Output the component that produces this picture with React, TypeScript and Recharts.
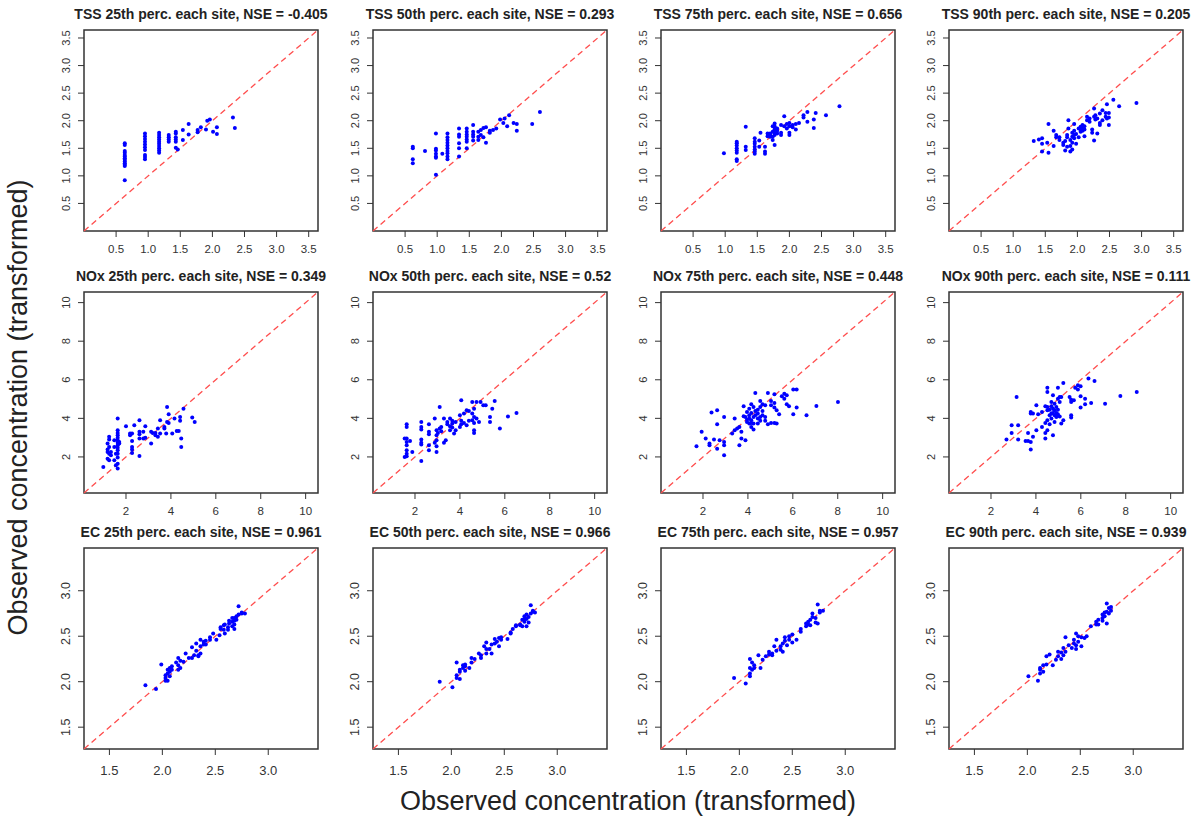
import React from "react";
import {
  ScatterChart,
  Scatter,
  XAxis,
  YAxis,
  ReferenceLine,
  ReferenceArea,
} from "recharts";

type Pt = [number, number];

// ---- axis setups (observed / predicted share the same scale) ----
const TSS_DOMAIN: [number, number] = [0, 3.645];
const TSS_TICKS = [0.5, 1.0, 1.5, 2.0, 2.5, 3.0, 3.5];
const NOX_DOMAIN: [number, number] = [0.13, 10.55];
const NOX_TICKS = [2, 4, 6, 8, 10];
const EC_DOMAIN: [number, number] = [1.26, 3.47];
const EC_TICKS = [1.5, 2.0, 2.5, 3.0];

const tss25: Pt[] = [
  [0.635, 1.59], [0.635, 1.56], [0.635, 1.45], [0.635, 1.42], [0.635, 1.38], [0.635, 1.35],
  [0.635, 1.32], [0.635, 1.29], [0.635, 1.26], [0.635, 1.23], [0.635, 1.2], [0.635, 1.18],
  [0.635, 0.92], [0.95, 1.77], [0.95, 1.72], [0.95, 1.67], [0.95, 1.62], [0.95, 1.57],
  [0.95, 1.52], [0.95, 1.47], [0.95, 1.38], [0.95, 1.34], [0.95, 1.3], [1.17, 1.78],
  [1.17, 1.74], [1.17, 1.7], [1.17, 1.66], [1.17, 1.62], [1.17, 1.58], [1.17, 1.54],
  [1.17, 1.5], [1.17, 1.46], [1.17, 1.42], [1.32, 1.74], [1.32, 1.7], [1.32, 1.66],
  [1.32, 1.62], [1.43, 1.8], [1.43, 1.77], [1.43, 1.7], [1.43, 1.66], [1.43, 1.62],
  [1.43, 1.51], [1.46, 1.48], [1.54, 1.83], [1.54, 1.65], [1.63, 1.94], [1.63, 1.75],
  [1.77, 1.83], [1.77, 1.79], [1.82, 1.88], [1.9, 1.84], [1.92, 2.0], [1.96, 2.02],
  [2.01, 1.8], [2.07, 1.88], [2.07, 1.76], [2.32, 2.06], [2.35, 1.87],
];

const tss50: Pt[] = [
  [0.62, 1.53], [0.62, 1.5], [0.62, 1.3], [0.62, 1.23], [0.81, 1.45], [0.98, 1.77],
  [0.98, 1.49], [0.98, 1.46], [0.98, 1.4], [0.98, 1.35], [0.98, 1.33], [0.98, 1.02],
  [1.08, 1.4], [1.16, 1.77], [1.16, 1.7], [1.16, 1.65], [1.16, 1.6], [1.16, 1.55],
  [1.16, 1.5], [1.16, 1.45], [1.16, 1.41], [1.16, 1.35], [1.16, 1.3], [1.34, 1.86],
  [1.34, 1.75], [1.34, 1.71], [1.34, 1.59], [1.34, 1.5], [1.34, 1.35], [1.46, 1.86],
  [1.46, 1.8], [1.46, 1.75], [1.46, 1.71], [1.46, 1.66], [1.46, 1.62], [1.46, 1.5],
  [1.56, 1.92], [1.56, 1.8], [1.56, 1.75], [1.56, 1.71], [1.56, 1.64], [1.64, 1.8],
  [1.64, 1.71], [1.64, 1.65], [1.68, 1.83], [1.68, 1.74], [1.72, 1.87], [1.72, 1.7],
  [1.76, 1.88], [1.76, 1.6], [1.82, 1.78], [1.82, 1.82], [1.87, 1.83], [1.92, 1.86],
  [1.98, 2.02], [2.03, 1.96], [2.05, 2.04], [2.09, 1.9], [2.12, 2.1], [2.19, 1.96],
  [2.24, 1.94], [2.24, 1.82], [2.48, 1.94], [2.6, 2.16],
];

const tss75: Pt[] = [
  [0.98, 1.41], [1.18, 1.62], [1.18, 1.59], [1.18, 1.55], [1.18, 1.5], [1.18, 1.46],
  [1.18, 1.42], [1.18, 1.3], [1.18, 1.27], [1.32, 1.89], [1.32, 1.53], [1.32, 1.47],
  [1.46, 1.68], [1.46, 1.62], [1.46, 1.58], [1.46, 1.53], [1.46, 1.48], [1.46, 1.44],
  [1.46, 1.4], [1.53, 1.64], [1.53, 1.53], [1.55, 1.78], [1.62, 1.53], [1.62, 1.44],
  [1.62, 1.4], [1.66, 1.77], [1.66, 1.72], [1.7, 1.77], [1.7, 1.74], [1.7, 1.71],
  [1.74, 1.9], [1.74, 1.8], [1.74, 1.71], [1.74, 1.65], [1.77, 1.95], [1.77, 1.9],
  [1.77, 1.84], [1.77, 1.78], [1.77, 1.74], [1.77, 1.56], [1.81, 1.86], [1.81, 1.82],
  [1.81, 1.77], [1.87, 1.92], [1.87, 1.78], [1.87, 1.74], [1.92, 2.08], [1.92, 1.9],
  [1.96, 1.94], [1.96, 1.86], [2.0, 1.96], [2.0, 1.9], [2.0, 1.74], [2.0, 1.78],
  [2.05, 1.92], [2.05, 1.88], [2.1, 1.94], [2.1, 1.84], [2.15, 1.96], [2.22, 2.1],
  [2.22, 2.06], [2.28, 2.16], [2.28, 1.98], [2.38, 2.02], [2.38, 1.87], [2.41, 2.14],
  [2.57, 2.1], [2.78, 2.26],
];

const tss90: Pt[] = [
  [1.32, 1.63], [1.4, 1.66], [1.45, 1.68], [1.45, 1.58], [1.45, 1.44], [1.53, 1.6],
  [1.55, 1.94], [1.55, 1.42], [1.63, 1.82], [1.63, 1.54], [1.67, 1.74], [1.67, 1.7],
  [1.72, 1.7], [1.72, 1.65], [1.78, 1.6], [1.78, 1.56], [1.81, 1.63], [1.81, 1.46],
  [1.84, 1.74], [1.84, 1.7], [1.84, 1.53], [1.86, 2.01], [1.86, 1.86], [1.89, 1.65],
  [1.89, 1.54], [1.89, 1.44], [1.92, 1.78], [1.92, 1.71], [1.92, 1.6], [1.92, 1.48],
  [1.95, 1.94], [1.95, 1.82], [1.95, 1.74], [1.95, 1.68], [1.98, 1.76], [1.98, 1.58],
  [2.02, 1.86], [2.02, 1.7], [2.05, 1.89], [2.05, 1.84], [2.05, 1.8], [2.08, 1.92],
  [2.08, 1.86], [2.08, 1.82], [2.11, 1.9], [2.11, 1.84], [2.11, 1.72], [2.15, 2.07],
  [2.15, 2.01], [2.19, 2.04], [2.19, 1.98], [2.23, 1.84], [2.23, 1.78], [2.26, 2.22],
  [2.26, 2.07], [2.26, 1.64], [2.28, 2.1], [2.28, 2.02], [2.31, 2.04], [2.31, 1.77],
  [2.35, 2.13], [2.35, 1.96], [2.35, 1.92], [2.39, 2.19], [2.39, 2.01], [2.44, 2.14],
  [2.44, 2.07], [2.46, 2.3], [2.46, 2.04], [2.49, 2.14], [2.49, 2.06], [2.49, 1.92],
  [2.56, 2.38], [2.65, 2.26], [2.92, 2.32],
];

const nox25: Pt[] = [
  [0.99, 1.48], [1.18, 2.69], [1.18, 2.38], [1.18, 2.26], [1.18, 1.91], [1.25, 3.04],
  [1.25, 2.9], [1.25, 2.52], [1.25, 2.17], [1.25, 1.83], [1.33, 2.26], [1.33, 2.09],
  [1.48, 2.86], [1.48, 2.52], [1.48, 1.83], [1.55, 2.17], [1.55, 1.57], [1.63, 3.99],
  [1.63, 3.38], [1.63, 3.24], [1.63, 3.12], [1.63, 3.0], [1.63, 2.86], [1.63, 2.73],
  [1.63, 2.6], [1.63, 2.48], [1.63, 2.35], [1.63, 2.17], [1.63, 1.97], [1.63, 1.65],
  [1.63, 1.4], [1.7, 2.78], [1.7, 2.69], [2.0, 3.59], [2.18, 3.21], [2.18, 3.12],
  [2.27, 3.21], [2.27, 2.83], [2.27, 2.52], [2.27, 2.38], [2.27, 2.21], [2.37, 3.64],
  [2.6, 3.9], [2.6, 3.3], [2.6, 3.17], [2.6, 2.95], [2.6, 2.05], [2.77, 3.3],
  [2.77, 2.95], [2.86, 3.59], [2.86, 3.0], [3.12, 3.3], [3.12, 2.69], [3.19, 3.24],
  [3.31, 3.24], [3.31, 3.12], [3.42, 3.04], [3.42, 3.47], [3.52, 3.9], [3.52, 3.21],
  [3.71, 3.55], [3.71, 3.47], [3.79, 3.21], [3.83, 4.59], [3.83, 3.81], [3.9, 4.21],
  [3.9, 3.76], [4.06, 3.21], [4.16, 3.99], [4.26, 3.35], [4.35, 3.35], [4.41, 4.07],
  [4.41, 3.87], [4.46, 2.95], [4.46, 2.52], [4.56, 4.5], [4.95, 4.04], [5.06, 3.81],
];

const nox50: Pt[] = [
  [1.54, 2.95], [1.54, 2.0], [1.63, 3.69], [1.63, 3.55], [1.63, 2.95], [1.63, 2.78],
  [1.63, 2.6], [1.63, 2.35], [1.63, 2.17], [1.63, 2.03], [1.78, 2.83], [1.88, 2.26],
  [2.28, 3.81], [2.28, 3.55], [2.28, 3.42], [2.28, 2.9], [2.28, 2.73], [2.28, 2.64],
  [2.28, 1.79], [2.62, 3.69], [2.62, 3.3], [2.62, 3.17], [2.62, 2.6], [2.62, 2.35],
  [2.88, 3.99], [2.88, 2.73], [2.96, 3.38], [2.96, 3.12], [2.96, 2.86], [2.96, 2.55],
  [2.96, 2.26], [3.02, 3.24], [3.1, 4.59], [3.1, 3.47], [3.17, 3.55], [3.17, 3.33],
  [3.29, 3.99], [3.29, 2.73], [3.37, 2.86], [3.44, 3.81], [3.44, 3.69], [3.56, 3.99],
  [3.56, 3.59], [3.56, 3.38], [3.66, 3.87], [3.66, 3.73], [3.66, 3.52], [3.74, 3.21],
  [3.81, 3.38], [3.81, 3.81], [4.0, 4.16], [4.0, 3.55], [4.06, 4.94], [4.06, 3.87],
  [4.06, 3.69], [4.18, 4.25], [4.18, 3.76], [4.3, 4.42], [4.3, 3.64], [4.4, 4.38],
  [4.4, 3.87], [4.55, 4.85], [4.55, 4.25], [4.55, 3.9], [4.63, 4.5], [4.63, 4.07],
  [4.63, 3.76], [4.63, 3.38], [4.63, 3.24], [4.74, 4.85], [4.74, 3.99], [4.85, 3.81],
  [4.92, 4.85], [5.04, 4.68], [5.15, 4.68], [5.34, 4.07], [5.34, 3.81], [5.44, 4.5],
  [5.55, 4.9], [5.78, 3.47], [6.14, 4.1], [6.52, 4.28],
];

const nox75: Pt[] = [
  [1.71, 2.55], [1.94, 3.3], [2.12, 2.95], [2.29, 2.69], [2.29, 2.6], [2.38, 4.3],
  [2.49, 2.9], [2.63, 4.42], [2.63, 3.69], [2.63, 2.43], [2.74, 2.86], [2.94, 4.07],
  [2.94, 2.78], [2.94, 2.6], [2.94, 2.09], [3.3, 3.21], [3.41, 3.38], [3.41, 3.99],
  [3.52, 3.47], [3.62, 2.6], [3.62, 3.55], [3.71, 3.3], [3.71, 2.95], [3.81, 4.63],
  [3.81, 4.11], [3.89, 4.07], [3.89, 2.86], [3.96, 4.33], [3.96, 3.93], [3.96, 3.81],
  [4.06, 4.5], [4.06, 4.16], [4.06, 3.99], [4.06, 3.73], [4.15, 4.73], [4.15, 4.28],
  [4.15, 3.9], [4.15, 3.76], [4.15, 3.55], [4.25, 4.59], [4.25, 4.07], [4.25, 3.73],
  [4.25, 3.42], [4.33, 5.32], [4.33, 4.38], [4.33, 4.16], [4.44, 4.45], [4.44, 4.25],
  [4.44, 3.99], [4.44, 3.73], [4.55, 4.9], [4.55, 4.59], [4.55, 4.07], [4.55, 3.87],
  [4.65, 4.73], [4.65, 4.38], [4.65, 4.16], [4.77, 4.68], [4.77, 4.07], [4.77, 3.87],
  [4.89, 5.32], [4.89, 3.69], [5.03, 4.9], [5.03, 4.68], [5.03, 3.76], [5.18, 5.25],
  [5.18, 4.8], [5.18, 4.56], [5.18, 3.76], [5.28, 4.42], [5.28, 3.73], [5.39, 4.21],
  [5.51, 5.14], [5.62, 5.28], [5.62, 5.02], [5.73, 5.2], [5.73, 4.73], [5.83, 4.63],
  [6.02, 5.49], [6.02, 4.21], [6.17, 5.49], [6.17, 4.56], [6.61, 4.16], [7.05, 4.64],
  [8.01, 4.85],
];

const nox90: Pt[] = [
  [2.69, 2.9], [2.92, 3.64], [2.92, 3.24], [3.14, 5.11], [3.21, 3.64], [3.21, 2.9],
  [3.54, 2.83], [3.65, 3.24], [3.65, 2.83], [3.77, 4.33], [3.77, 4.25], [3.77, 2.78],
  [3.77, 2.38], [3.87, 3.04], [3.87, 4.25], [4.02, 4.68], [4.02, 3.38], [4.1, 4.21],
  [4.27, 3.55], [4.27, 4.33], [4.42, 4.63], [4.42, 3.76], [4.42, 3.24], [4.42, 2.95],
  [4.51, 5.59], [4.51, 5.37], [4.51, 4.59], [4.51, 4.42], [4.51, 3.9], [4.51, 3.38],
  [4.61, 4.45], [4.61, 4.16], [4.61, 3.69], [4.69, 4.85], [4.69, 4.63], [4.69, 4.25],
  [4.69, 3.99], [4.76, 5.2], [4.76, 4.5], [4.76, 4.28], [4.76, 3.12], [4.83, 4.76],
  [4.83, 4.42], [4.83, 4.16], [4.83, 3.81], [4.91, 4.59], [4.91, 4.28], [4.91, 4.07],
  [4.98, 5.59], [4.98, 5.02], [4.98, 4.45], [4.98, 4.21], [5.06, 5.11], [5.06, 4.85],
  [5.06, 4.1], [5.13, 5.11], [5.13, 3.73], [5.22, 5.83], [5.22, 3.9], [5.5, 5.11],
  [5.57, 4.97], [5.57, 4.85], [5.57, 4.16], [5.57, 4.04], [5.69, 4.94], [5.75, 5.59],
  [5.87, 5.71], [5.87, 5.49], [5.99, 5.66], [5.99, 5.14], [5.99, 4.56], [6.19, 5.02],
  [6.19, 4.73], [6.34, 6.06], [6.46, 4.8], [6.61, 5.94], [7.08, 4.76], [7.76, 5.16],
  [8.49, 5.37],
];

const ec25: Pt[] = [
  [1.84, 1.96], [1.94, 1.92], [1.99, 2.19], [2.03, 2.07], [2.03, 2.04], [2.03, 2.01],
  [2.05, 2.13], [2.05, 2.09], [2.05, 2.01], [2.07, 2.15], [2.07, 2.11], [2.07, 2.06],
  [2.09, 2.17], [2.09, 2.13], [2.13, 2.21], [2.15, 2.26], [2.15, 2.18], [2.15, 2.13],
  [2.17, 2.23], [2.17, 2.15], [2.2, 2.22], [2.22, 2.31], [2.25, 2.26], [2.28, 2.38],
  [2.28, 2.26], [2.3, 2.29], [2.32, 2.42], [2.32, 2.34], [2.34, 2.29], [2.34, 2.28],
  [2.36, 2.46], [2.36, 2.39], [2.36, 2.31], [2.39, 2.44], [2.39, 2.41], [2.41, 2.41],
  [2.41, 2.45], [2.45, 2.49], [2.45, 2.46], [2.48, 2.53], [2.51, 2.46], [2.54, 2.51],
  [2.55, 2.6], [2.55, 2.58], [2.58, 2.62], [2.58, 2.57], [2.59, 2.63], [2.59, 2.53],
  [2.62, 2.6], [2.62, 2.57], [2.63, 2.64], [2.63, 2.67], [2.66, 2.7], [2.66, 2.66],
  [2.66, 2.61], [2.68, 2.7], [2.68, 2.67], [2.68, 2.63], [2.68, 2.58], [2.7, 2.72],
  [2.7, 2.68], [2.72, 2.83], [2.72, 2.74], [2.75, 2.75], [2.75, 2.76], [2.78, 2.75],
];

const ec50: Pt[] = [
  [1.89, 2.0], [2.01, 1.94], [2.05, 2.21], [2.05, 2.07], [2.05, 2.04], [2.08, 2.11],
  [2.08, 2.03], [2.08, 2.13], [2.11, 2.18], [2.11, 2.15], [2.13, 2.19], [2.13, 2.17],
  [2.13, 2.12], [2.17, 2.15], [2.19, 2.26], [2.19, 2.21], [2.22, 2.25], [2.26, 2.31],
  [2.28, 2.29], [2.28, 2.26], [2.31, 2.39], [2.33, 2.43], [2.33, 2.36], [2.33, 2.31],
  [2.36, 2.36], [2.38, 2.41], [2.38, 2.31], [2.41, 2.47], [2.41, 2.42], [2.43, 2.44],
  [2.45, 2.48], [2.45, 2.39], [2.47, 2.49], [2.47, 2.46], [2.53, 2.47], [2.56, 2.54],
  [2.56, 2.53], [2.58, 2.58], [2.61, 2.62], [2.61, 2.61], [2.65, 2.63], [2.65, 2.62],
  [2.67, 2.68], [2.67, 2.61], [2.69, 2.72], [2.69, 2.69], [2.69, 2.66], [2.71, 2.74],
  [2.71, 2.69], [2.71, 2.61], [2.73, 2.71], [2.73, 2.65], [2.75, 2.84], [2.75, 2.75],
  [2.77, 2.78], [2.77, 2.77], [2.79, 2.76],
];

const ec75: Pt[] = [
  [1.95, 2.04], [2.06, 1.98], [2.1, 2.25], [2.1, 2.15], [2.1, 2.09], [2.1, 2.06],
  [2.12, 2.21], [2.12, 2.13], [2.14, 2.18], [2.14, 2.15], [2.18, 2.29], [2.2, 2.15],
  [2.22, 2.24], [2.25, 2.28], [2.28, 2.33], [2.28, 2.3], [2.31, 2.31], [2.31, 2.29],
  [2.33, 2.39], [2.35, 2.46], [2.35, 2.34], [2.39, 2.39], [2.39, 2.35], [2.41, 2.42],
  [2.41, 2.33], [2.43, 2.49], [2.43, 2.45], [2.45, 2.4], [2.47, 2.5], [2.47, 2.46],
  [2.5, 2.52], [2.5, 2.43], [2.54, 2.46], [2.58, 2.58], [2.58, 2.55], [2.63, 2.64],
  [2.63, 2.61], [2.65, 2.66], [2.65, 2.63], [2.67, 2.68], [2.67, 2.62], [2.69, 2.75],
  [2.69, 2.71], [2.72, 2.7], [2.72, 2.65], [2.74, 2.85], [2.74, 2.64], [2.76, 2.78],
  [2.76, 2.76], [2.79, 2.78],
];

const ec90: Pt[] = [
  [2.01, 2.06], [2.1, 2.01], [2.12, 2.15], [2.12, 2.13], [2.12, 2.09], [2.15, 2.18],
  [2.15, 2.11], [2.18, 2.28], [2.18, 2.19], [2.21, 2.3], [2.24, 2.18], [2.27, 2.24],
  [2.29, 2.33], [2.29, 2.28], [2.32, 2.32], [2.32, 2.25], [2.34, 2.37], [2.34, 2.29],
  [2.36, 2.49], [2.36, 2.33], [2.39, 2.4], [2.42, 2.37], [2.44, 2.46], [2.44, 2.42],
  [2.46, 2.53], [2.46, 2.4], [2.46, 2.36], [2.48, 2.5], [2.48, 2.44], [2.51, 2.49],
  [2.51, 2.39], [2.54, 2.48], [2.56, 2.5], [2.6, 2.61], [2.65, 2.66], [2.65, 2.63],
  [2.67, 2.68], [2.67, 2.63], [2.71, 2.74], [2.71, 2.7], [2.71, 2.67], [2.73, 2.76],
  [2.73, 2.72], [2.75, 2.86], [2.75, 2.77], [2.75, 2.64], [2.77, 2.75], [2.77, 2.81],
  [2.79, 2.78], [2.79, 2.82],
];

const PANELS = [
  { title: "TSS 25th perc. each site, NSE = -0.405", data: tss25, domain: TSS_DOMAIN, ticks: TSS_TICKS, digits: 1 },
  { title: "TSS 50th perc. each site, NSE = 0.293", data: tss50, domain: TSS_DOMAIN, ticks: TSS_TICKS, digits: 1 },
  { title: "TSS 75th perc. each site, NSE = 0.656", data: tss75, domain: TSS_DOMAIN, ticks: TSS_TICKS, digits: 1 },
  { title: "TSS 90th perc. each site, NSE = 0.205", data: tss90, domain: TSS_DOMAIN, ticks: TSS_TICKS, digits: 1 },
  { title: "NOx 25th perc. each site, NSE = 0.349", data: nox25, domain: NOX_DOMAIN, ticks: NOX_TICKS, digits: 0 },
  { title: "NOx 50th perc. each site, NSE = 0.52", data: nox50, domain: NOX_DOMAIN, ticks: NOX_TICKS, digits: 0 },
  { title: "NOx 75th perc. each site, NSE = 0.448", data: nox75, domain: NOX_DOMAIN, ticks: NOX_TICKS, digits: 0 },
  { title: "NOx 90th perc. each site, NSE = 0.111", data: nox90, domain: NOX_DOMAIN, ticks: NOX_TICKS, digits: 0 },
  { title: "EC 25th perc. each site, NSE = 0.961", data: ec25, domain: EC_DOMAIN, ticks: EC_TICKS, digits: 1 },
  { title: "EC 50th perc. each site, NSE = 0.966", data: ec50, domain: EC_DOMAIN, ticks: EC_TICKS, digits: 1 },
  { title: "EC 75th perc. each site, NSE = 0.957", data: ec75, domain: EC_DOMAIN, ticks: EC_TICKS, digits: 1 },
  { title: "EC 90th perc. each site, NSE = 0.939", data: ec90, domain: EC_DOMAIN, ticks: EC_TICKS, digits: 1 },
];

const COL_LEFT = [84, 373, 661, 949];
const ROW_TOP = [30, 292, 548];
const BOX_W = 234;
const BOX_H = 201;
const Y_AXIS_W = 45;
const X_AXIS_H = 38;
const FONT = "'Liberation Sans', Arial, sans-serif";
const INK = "#333";

const RotatedTick = (props: any) => {
  const { x, y, payload, digits, size } = props;
  return (
    <text
      x={x}
      y={y}
      transform={`rotate(-90, ${x}, ${y})`}
      textAnchor="middle"
      fontSize={size}
      fill={INK}
      fontFamily={FONT}
    >
      {payload.value.toFixed(digits)}
    </text>
  );
};

const Dot = (props: any) => <circle cx={props.cx} cy={props.cy} r={2} fill="#0000ff" />;

function Panel({ idx }: { idx: number }) {
  const p = PANELS[idx];
  const row = Math.floor(idx / 4);
  const left = COL_LEFT[idx % 4];
  const top = ROW_TOP[row];
  const [lo, hi] = p.domain;
  const data = p.data.map(([x, y]) => ({ x, y }));
  const xFont = row === 2 ? 13 : 11.5;
  const yFont = row === 2 ? 12.5 : 11;
  return (
    <>
      <div
        style={{
          position: "absolute",
          left: left - 40,
          width: BOX_W + 80,
          top: top - 24,
          textAlign: "center",
          fontFamily: FONT,
          fontWeight: "bold",
          fontSize: 14,
          color: "#222",
          whiteSpace: "nowrap",
        }}
      >
        {p.title}
      </div>
      <div style={{ position: "absolute", left: left - Y_AXIS_W, top: top - 5 }}>
        <ScatterChart
          width={Y_AXIS_W + BOX_W + 8}
          height={5 + BOX_H + X_AXIS_H}
          margin={{ top: 5, right: 8, left: 0, bottom: 0 }}
        >
          <XAxis
            type="number"
            dataKey="x"
            domain={[lo, hi]}
            ticks={p.ticks}
            allowDataOverflow
            axisLine={false}
            tickLine={{ stroke: INK }}
            tickSize={6}
            tickMargin={row === 2 ? 11 : 8}
            height={X_AXIS_H}
            tickFormatter={(v: number) => v.toFixed(p.digits)}
            tick={{ fontSize: xFont, fill: INK, fontFamily: FONT }}
          />
          <YAxis
            type="number"
            dataKey="y"
            domain={[lo, hi]}
            ticks={p.ticks}
            allowDataOverflow
            axisLine={false}
            tickLine={{ stroke: INK }}
            tickSize={6}
            tickMargin={8}
            width={Y_AXIS_W}
            tick={<RotatedTick digits={p.digits} size={yFont} />}
          />
          <ReferenceArea
            x1={lo}
            x2={hi}
            y1={lo}
            y2={hi}
            fill="none"
            stroke={INK}
            strokeWidth={1.5}
          />
          <Scatter data={data} shape={<Dot />} isAnimationActive={false} />
          <ReferenceLine
            segment={[
              { x: lo, y: lo },
              { x: hi, y: hi },
            ]}
            stroke="#ff4d4d"
            strokeWidth={1.3}
            strokeDasharray="6 4"
          />
        </ScatterChart>
      </div>
    </>
  );
}

export default function App() {
  return (
    <div
      style={{
        position: "absolute",
        left: 0,
        top: 0,
        width: 1199,
        height: 820,
        background: "#fff",
        overflow: "hidden",
      }}
    >
      {PANELS.map((_, i) => (
        <Panel key={i} idx={i} />
      ))}
      <div
        style={{
          position: "absolute",
          left: 0,
          width: 1256,
          top: 786,
          textAlign: "center",
          fontFamily: FONT,
          fontSize: 27,
          color: "#222",
          whiteSpace: "nowrap",
        }}
      >
        Observed concentration (transformed)
      </div>
      <div
        style={{
          position: "absolute",
          left: 18 - 300,
          top: 410 - 18,
          width: 600,
          textAlign: "center",
          transform: "rotate(-90deg)",
          fontFamily: FONT,
          fontSize: 27,
          color: "#222",
          whiteSpace: "nowrap",
        }}
      >
        Observed concentration (transformed)
      </div>
    </div>
  );
}
